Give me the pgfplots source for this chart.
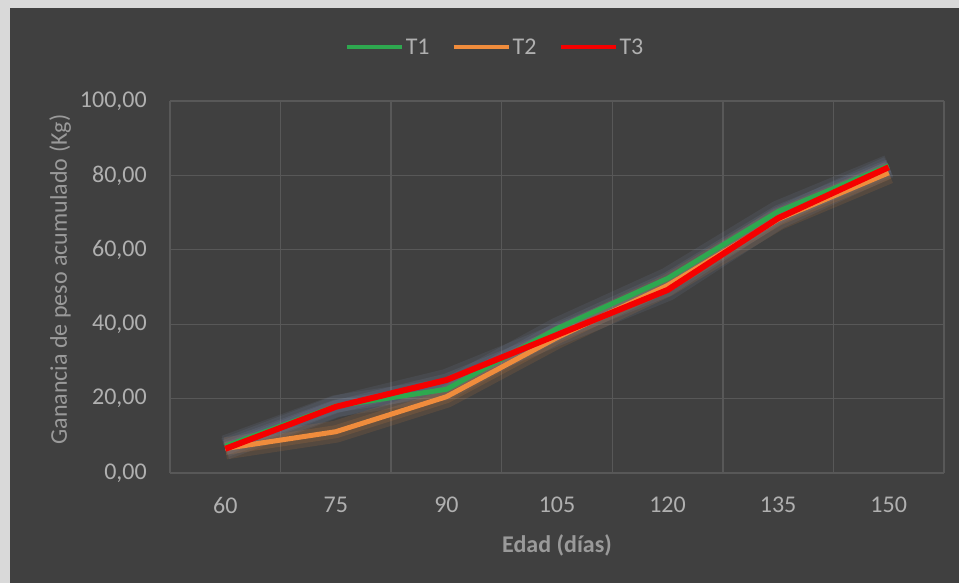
\documentclass[border=0pt]{standalone}
\usepackage{fontspec}
\setmainfont{Carlito}
\usepackage{pgfplots}
\pgfplotsset{compat=1.18}
\usepackage{pgfplotstable}

\definecolor{bgdark}{HTML}{404040}
\definecolor{bglight}{HTML}{D9D9D9}
\definecolor{gridc}{HTML}{585858}
\definecolor{tickc}{HTML}{B0B0B0}
\definecolor{labc}{HTML}{9A9A9A}
\definecolor{cT1}{HTML}{2EA84F}
\definecolor{cT2}{HTML}{F08C3C}
\definecolor{cT3}{HTML}{F50000}
\definecolor{glowb}{HTML}{8090B0}

% ganancia de peso acumulado (kg) por edad
\pgfplotstableread{
x    T1    T2    T3
60   7.2   6.6   6.5
75   18.0  11.1  17.8
90   22.5  20.5  25.0
105  38.8  36.4  37.1
120  52.3  50.4  49.2
135  70.3  68.2  68.5
150  82.6  80.7  82.2
}\datos

\begin{document}
\begin{tikzpicture}
\fill[bgdark] (0pt,0pt) rectangle (959pt,583pt);
\fill[bglight] (0pt,575pt) rectangle (959pt,583pt);
\fill[bglight] (0pt,0pt) rectangle (10pt,583pt);
\begin{axis}[
  at={(170pt,110pt)}, anchor=south west,
  scale only axis,
  width=774pt, height=372pt,
  xmin=52.5, xmax=157.5,
  ymin=0, ymax=100,
  xtick={60,75,...,150},
  ytick={0,20,...,100},
  minor xtick={52.5,67.5,...,157.5},
  xminorgrids=true, ymajorgrids=true,
  minor grid style={gridc, line width=1.3pt},
  major grid style={gridc, line width=1.3pt},
  axis line style={draw=none},
  major tick length=0pt, minor tick length=0pt,
  tick label style={font=\fontsize{24}{28}\selectfont, text=tickc},
  /pgf/number format/assume math mode=true,
  xticklabel style={anchor=center, yshift=-32pt},
  yticklabel style={anchor=east, inner sep=0pt, xshift=-23pt,
    /pgf/number format/.cd, fixed, fixed zerofill, precision=2, use comma},
  xlabel={\bfseries Edad (días)},
  ylabel={Ganancia de peso acumulado (Kg)},
  label style={font=\fontsize{24}{28}\selectfont, text=labc},
  xlabel style={at={(axis description cs:0.5,-0.194)}, anchor=center},
  ylabel style={at={(axis description cs:-0.142,0.52)}, anchor=center},
  legend style={at={(axis description cs:0.42,1.145)}, anchor=center,
    draw=none, fill=none, text=tickc,
    font=\fontsize{24}{28}\selectfont,
    legend columns=-1,
    /tikz/every even column/.append style={column sep=20pt},
    nodes={inner sep=2pt}},
  legend image code/.code={\draw[#1, line width=4pt] (0pt,0pt) -- (55pt,0pt);},
  clip=false,
]
% halo
\addplot[glowb, opacity=0.12, line width=22pt, line join=round, forget plot] table[x=x, y=T1] {\datos};
\addplot[cT2, opacity=0.12, line width=22pt, line join=round, forget plot] table[x=x, y=T2] {\datos};
\addplot[glowb, opacity=0.12, line width=22pt, line join=round, forget plot] table[x=x, y=T3] {\datos};
\addplot[glowb, opacity=0.14, line width=13pt, line join=round, forget plot] table[x=x, y=T1] {\datos};
\addplot[cT2, opacity=0.14, line width=13pt, line join=round, forget plot] table[x=x, y=T2] {\datos};
\addplot[glowb, opacity=0.14, line width=13pt, line join=round, forget plot] table[x=x, y=T3] {\datos};
% series
\addplot[cT1, line width=5pt, line join=round] table[x=x, y=T1] {\datos};
\addplot[cT2, line width=5pt, line join=round] table[x=x, y=T2] {\datos};
\addplot[cT3, line width=6pt, line join=round] table[x=x, y=T3] {\datos};
\legend{T1, T2, T3}
\end{axis}
\pgfresetboundingbox
\useasboundingbox (0,0) rectangle (959pt,583pt);
\end{tikzpicture}
\end{document}
